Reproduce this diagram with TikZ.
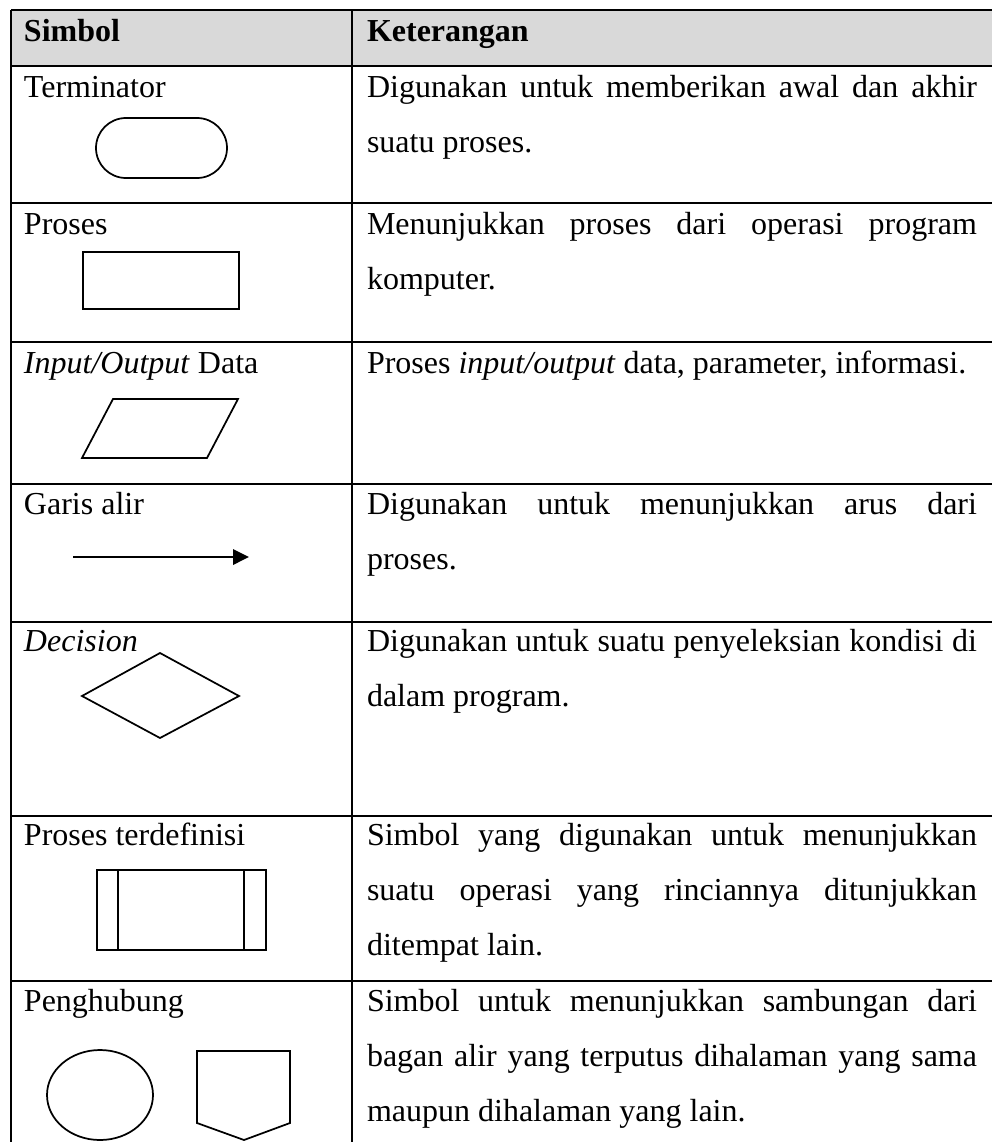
\documentclass[tikz,border=0pt]{standalone}
\usepackage{fontspec}
\setmainfont{Liberation Serif}
\usetikzlibrary{arrows.meta}

\begin{document}
\begin{tikzpicture}[x=0.375pt, y=-0.375pt,
  every node/.style={font=\fontsize{12pt}{14pt}\selectfont, inner sep=0pt, outer sep=0pt, anchor=base west},
  garis/.style={line width=0.85pt},
  simbol/.style={line width=0.65pt}]
\useasboundingbox (0,0) rectangle (992,1142);

\fill[gray!30] (11,10) rectangle (992,66);
\draw[garis] (11,10) -- (992,10);
\draw[garis] (11,66) -- (992,66);
\draw[garis] (11,203) -- (992,203);
\draw[garis] (11,342) -- (992,342);
\draw[garis] (11,484) -- (992,484);
\draw[garis] (11,622) -- (992,622);
\draw[garis] (11,816) -- (992,816);
\draw[garis] (11,981) -- (992,981);
\draw[garis] (11,10) -- (11,1142);
\draw[garis] (352,10) -- (352,1142);

\node (simbol) at (24,41) {\textbf{Simbol}};
\node (keterangan) at (367,41) {\textbf{Keterangan}};

\node (terminator) at (24,97) {Terminator};
\node (ket1a) at (367,97) {\makebox[228.75pt][s]{Digunakan untuk memberikan awal dan akhir}};
\node (ket1b) at (367,152) {suatu proses.};
\draw[simbol, rounded corners=11.25pt] (96,118) rectangle (227,178);

\node (proses) at (24,234) {Proses};
\node (ket2a) at (367,234) {\makebox[228.75pt][s]{Menunjukkan proses dari operasi program}};
\node (ket2b) at (367,289) {komputer.};
\draw[simbol] (83,252) rectangle (239,309);

\node (io) at (24,373) {\textit{Input/Output} Data};
\node (ket3a) at (367,373) {Proses \textit{input/output} data, parameter, informasi.};
\draw[simbol] (113,399) -- (238,399) -- (207,458) -- (82,458) -- cycle;

\node (alir) at (24,514) {Garis alir};
\node (ket4a) at (367,514) {\makebox[228.75pt][s]{Digunakan untuk menunjukkan arus dari}};
\node (ket4b) at (367,569) {proses.};
\coordinate (alirawal) at (73,557);
\coordinate (alirakhir) at (249,557);
\draw[simbol, line width=0.75pt, -{Triangle[length=6pt, width=5.8pt]}] (alirawal) -- (alirakhir);

\node (decision) at (24,651) {\textit{Decision}};
\node (ket5a) at (367,651) {\makebox[228.75pt][s]{Digunakan untuk suatu penyeleksian kondisi di}};
\node (ket5b) at (367,706) {dalam program.};
\draw[simbol] (82,696) -- (160,653) -- (239,696) -- (160,738) -- cycle;

\node (terdefinisi) at (24,845) {Proses terdefinisi};
\node (ket6a) at (367,845) {\makebox[228.75pt][s]{Simbol yang digunakan untuk menunjukkan}};
\node (ket6b) at (367,900) {\makebox[228.75pt][s]{suatu operasi yang rinciannya ditunjukkan}};
\node (ket6c) at (367,955) {ditempat lain.};
\draw[simbol] (97,870) rectangle (266,950);
\draw[simbol] (118,870) -- (118,950);
\draw[simbol] (244,870) -- (244,950);

\node (penghubung) at (24,1011) {Penghubung};
\node (ket7a) at (367,1011) {\makebox[228.75pt][s]{Simbol untuk menunjukkan sambungan dari}};
\node (ket7b) at (367,1066) {\makebox[228.75pt][s]{bagan alir yang terputus dihalaman yang sama}};
\node (ket7c) at (367,1121) {maupun dihalaman yang lain.};
\draw[simbol] (100,1095) ellipse [x radius=53, y radius=45];
\draw[simbol] (197,1051) -- (290,1051) -- (290,1123) -- (244,1140) -- (197,1123) -- cycle;
\end{tikzpicture}
\end{document}
